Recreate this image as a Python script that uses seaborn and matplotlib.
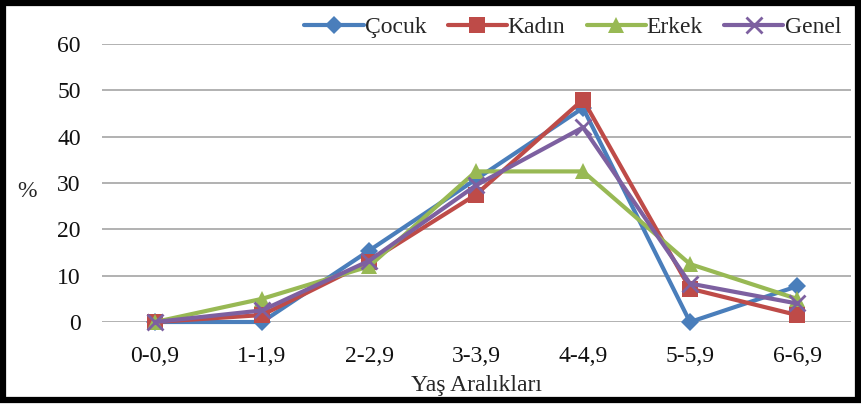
import matplotlib
matplotlib.use("Agg")
import matplotlib.pyplot as plt
from matplotlib.patches import Rectangle
import pandas as pd
import seaborn as sns

age_groups = ["0-0,9", "1-1,9", "2-2,9", "3-3,9", "4-4,9", "5-5,9", "6-6,9"]
cocuk = [0, 0, 15.4, 30.8, 46.2, 0, 7.7]
kadin = [0, 1.5, 13.0, 27.5, 48.0, 7.2, 1.5]
erkek = [0, 5.0, 12.0, 32.5, 32.5, 12.5, 5.0]
genel = [0, 2.5, 13.2, 29.5, 42.0, 8.3, 4.0]
series_names = ["Çocuk", "Kadın", "Erkek", "Genel"]
y_ticks = [0, 10, 20, 30, 40, 50, 60]

frames = []
for name, vals in zip(series_names, [cocuk, kadin, erkek, genel]):
    frames.append(pd.DataFrame({"grup": age_groups, "deger": vals, "seri": name}))
df = pd.concat(frames, ignore_index=True)
df["pos"] = df["grup"].map({g: i for i, g in enumerate(age_groups)})

sns.set_style("white")
plt.rcParams["font.family"] = ["Liberation Serif", "DejaVu Serif"]

palette = {"Çocuk": "#4a7ebb", "Kadın": "#be4b48", "Erkek": "#98b954", "Genel": "#7d60a0"}
markers = {"Çocuk": "D", "Kadın": "s", "Erkek": "^", "Genel": "x"}
sizes = {"Çocuk": 9, "Kadın": 11, "Erkek": 11, "Genel": 11}

fig = plt.figure(figsize=(8.61, 4.04), dpi=100)
ax = fig.add_axes([101.5 / 861, 82 / 404, 749 / 861, 278 / 404])

for name in series_names:
    sub = df[df["seri"] == name]
    sns.lineplot(data=sub, x="pos", y="deger", ax=ax, color=palette[name],
                 marker=markers[name], markersize=sizes[name], linewidth=3,
                 markeredgewidth=2 if name == "Genel" else 0,
                 markeredgecolor=palette[name], label=name, sort=False,
                 clip_on=False, zorder=3)

ax.set_xlim(-0.5, len(age_groups) - 0.5)
ax.set_ylim(0, 60)
ax.set_yticks(y_ticks)
ax.set_xticks(range(len(age_groups)))
ax.set_xticklabels(age_groups)
ax.yaxis.grid(True, color="#9c9c9c", linewidth=1.1)
ax.xaxis.grid(False)
for s in ax.spines.values():
    s.set_visible(False)
ax.tick_params(axis="both", length=0, labelsize=17, colors="#111111")
ax.tick_params(axis="y", pad=15)
ax.tick_params(axis="x", pad=17)
ax.set_xlabel("Yaş Aralıkları", fontsize=17, va="center")
ax.xaxis.set_label_coords(0.5, -0.228)
ax.set_ylabel("%", fontsize=17, rotation=0, va="center", ha="center")
ax.yaxis.set_label_coords(-0.1, 0.47)

leg = ax.legend(loc="center right", bbox_to_anchor=(1.0, 1.06), ncol=4, frameon=False,
                fontsize=17, handlelength=2.5, handletextpad=0.05, columnspacing=0.9,
                borderaxespad=0.0)

fig.add_artist(Rectangle((0.003, 0.0095), 0.994, 0.984, transform=fig.transFigure,
                         fill=False, edgecolor="black", linewidth=4.5))

fig.savefig("out.png", dpi=100)
